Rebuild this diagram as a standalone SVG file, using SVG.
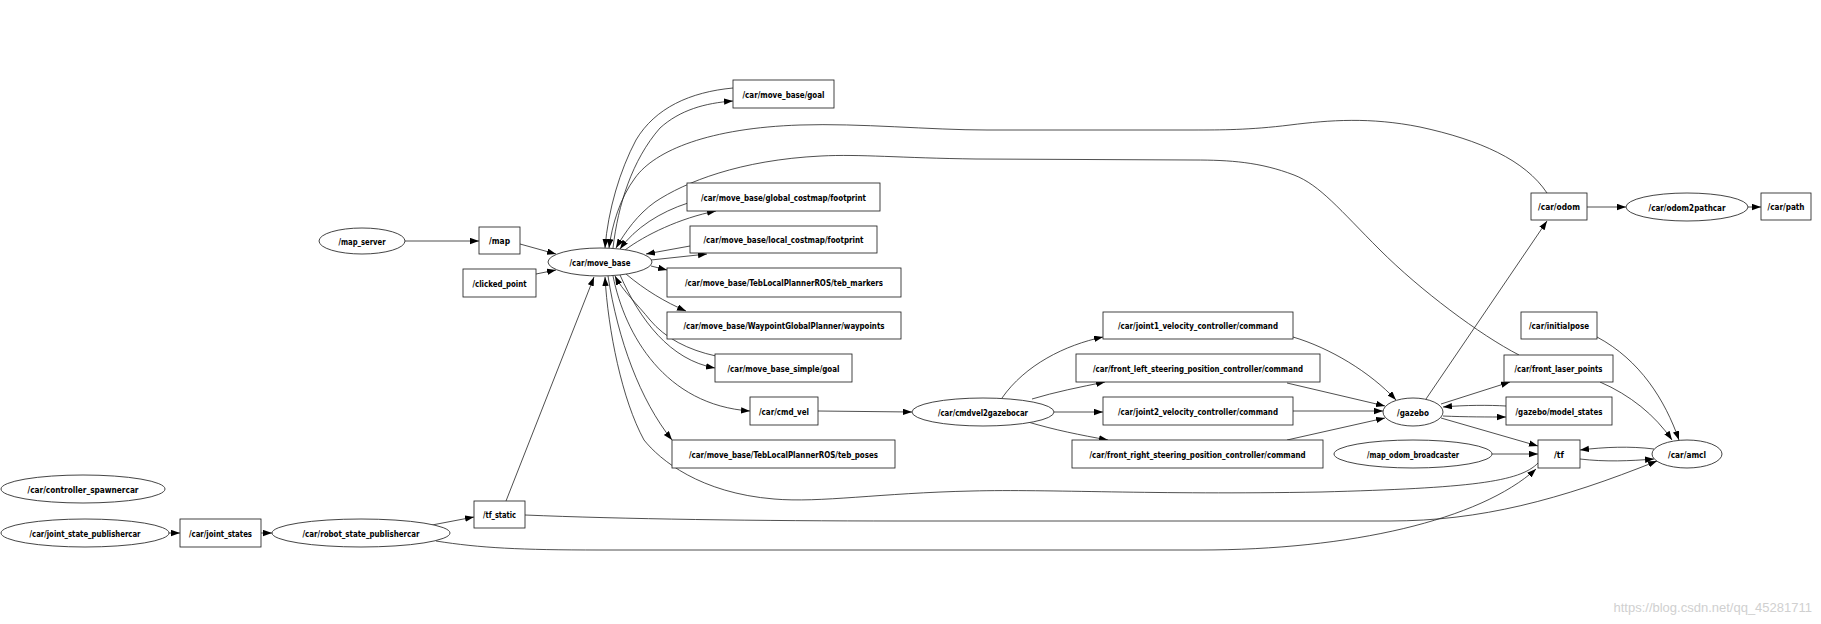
<svg xmlns="http://www.w3.org/2000/svg" width="1821" height="624" viewBox="0 0 1821 624">
<style>
.n{fill:#fff;stroke:#222;stroke-width:0.85}
.t{font-family:"DejaVu Sans Condensed","Roboto","Liberation Sans",sans-serif;font-weight:bold;font-size:9px;fill:#000;text-anchor:middle}
.e{fill:none;stroke:#222;stroke-width:0.8}
.wm{font-family:"Liberation Sans",Arial,sans-serif;font-size:13px;fill:#d0d0d0;text-anchor:end}
</style>
<defs>
<marker id="a" markerUnits="userSpaceOnUse" markerWidth="10" markerHeight="8" refX="9" refY="3.2" orient="auto">
<path d="M0,0 L9,3.2 L0,6.4 z" fill="#000"/>
</marker>
</defs>
<rect width="1821" height="624" fill="#fff"/>
<g id="edges" class="e" marker-end="url(#a)">
<path d="M405,241 L479,241"/>
<path d="M520,244 L556,254"/>
<path d="M536,274 L556,270"/>
<path d="M733,88 C690,92 655,108 636,140 C620,170 608,210 605,248"/>
<path d="M613,248 C618,205 632,160 660,128 C680,110 705,103 733,101"/>
<path d="M1547,193 C1525,160 1480,140 1420,127 C1370,117 1330,120 1290,125 C1250,130 1220,130 1194,130 L987,130 C930,130 860,123 800,125 C710,128 655,150 635,178 C620,198 612,225 609,248"/>
<path d="M1519,355 C1480,335 1420,290 1380,250 C1340,210 1320,185 1294,175 C1260,162 1230,160 1194,160 L976,159 C900,158 860,154 821,156 C740,160 685,182 655,202 C638,214 625,232 616,248"/>
<path d="M688,203 C660,212 635,228 620,249"/>
<path d="M625,250 C645,235 680,218 716,211"/>
<path d="M690,246 L646,254"/>
<path d="M651,260 L707,254"/>
<path d="M651,266 L667,270"/>
<path d="M626,274 C645,290 665,302 686,311"/>
<path d="M716,356 C688,350 665,338 650,320 C638,305 622,290 615,276"/>
<path d="M620,275 C640,320 670,360 715,368"/>
<path d="M613,276 C625,335 665,405 750,411"/>
<path d="M608,276 C618,340 640,400 672,440"/>
<path d="M1538,463 C1520,482 1470,488 1321,492 C1150,495 1050,489 972,491 C880,493 820,503 774,499 C700,493 660,460 644,440 C622,400 608,330 605,277"/>
<path d="M506,501 L594,277"/>
<path d="M818,411 L912,412"/>
<path d="M1002,398 C1025,365 1065,345 1103,337"/>
<path d="M1032,399 C1055,392 1080,387 1105,382"/>
<path d="M1054,412 L1103,412"/>
<path d="M1028,422 C1055,430 1080,435 1108,440"/>
<path d="M1293,337 C1330,348 1370,372 1396,400"/>
<path d="M1287,383 L1385,406"/>
<path d="M1293,411 L1383,411"/>
<path d="M1287,440 L1385,418"/>
<path d="M1426,399 L1547,221"/>
<path d="M1587,207 L1626,207"/>
<path d="M1748,207 L1761,207"/>
<path d="M1441,404 L1510,382"/>
<path d="M1506,406 C1490,405 1465,405 1443,407"/>
<path d="M1443,416 C1465,417 1490,417 1506,417"/>
<path d="M1441,418 L1538,446"/>
<path d="M1492,454 L1538,454"/>
<path d="M1654,449 C1630,446 1605,447 1580,450"/>
<path d="M1580,459 C1605,462 1630,461 1654,459"/>
<path d="M1597,337 C1640,360 1665,400 1679,440"/>
<path d="M1600,382 C1630,395 1655,415 1672,440"/>
<path d="M525,515 C620,519 760,521 900,521 L1390,521 C1480,521 1560,500 1657,461"/>
<path d="M432,525 L474,517"/>
<path d="M436,541 C480,548 520,550 600,550 L1200,550 C1350,550 1480,520 1536,469"/>
<path d="M169,533 L180,533"/>
<path d="M261,533 L272,533"/>
</g>
<g id="map_server"><ellipse class="n" cx="362" cy="241" rx="43" ry="13"/><text class="t" x="362" y="244.5" textLength="47" lengthAdjust="spacingAndGlyphs">/map_server</text></g>
<g id="map"><rect class="n" x="479" y="227" width="41" height="27"/><text class="t" x="499.5" y="244" textLength="21" lengthAdjust="spacingAndGlyphs">/map</text></g>
<g id="clicked_point"><rect class="n" x="463" y="269" width="73" height="28"/><text class="t" x="499.5" y="286.5" textLength="54" lengthAdjust="spacingAndGlyphs">/clicked_point</text></g>
<g id="move_base"><ellipse class="n" cx="600" cy="262" rx="52" ry="14"/><text class="t" x="600" y="265.5" textLength="61" lengthAdjust="spacingAndGlyphs">/car/move_base</text></g>
<g id="goal"><rect class="n" x="733" y="80" width="101" height="28"/><text class="t" x="783.5" y="97.5" textLength="82" lengthAdjust="spacingAndGlyphs">/car/move_base/goal</text></g>
<g id="global_footprint"><rect class="n" x="687" y="183" width="193" height="28"/><text class="t" x="783.5" y="200.5" textLength="165" lengthAdjust="spacingAndGlyphs">/car/move_base/global_costmap/footprint</text></g>
<g id="local_footprint"><rect class="n" x="690" y="226" width="187" height="27"/><text class="t" x="783.5" y="243" textLength="160" lengthAdjust="spacingAndGlyphs">/car/move_base/local_costmap/footprint</text></g>
<g id="teb_markers"><rect class="n" x="667" y="268" width="234" height="29"/><text class="t" x="784" y="286" textLength="198" lengthAdjust="spacingAndGlyphs">/car/move_base/TebLocalPlannerROS/teb_markers</text></g>
<g id="waypoints"><rect class="n" x="667" y="312" width="234" height="27"/><text class="t" x="784" y="329" textLength="201" lengthAdjust="spacingAndGlyphs">/car/move_base/WaypointGlobalPlanner/waypoints</text></g>
<g id="simple_goal"><rect class="n" x="715" y="354" width="137" height="28"/><text class="t" x="783.5" y="371.5" textLength="112" lengthAdjust="spacingAndGlyphs">/car/move_base_simple/goal</text></g>
<g id="cmd_vel"><rect class="n" x="750" y="397" width="68" height="28"/><text class="t" x="784" y="414.5" textLength="50" lengthAdjust="spacingAndGlyphs">/car/cmd_vel</text></g>
<g id="teb_poses"><rect class="n" x="672" y="440" width="223" height="28"/><text class="t" x="783.5" y="457.5" textLength="189" lengthAdjust="spacingAndGlyphs">/car/move_base/TebLocalPlannerROS/teb_poses</text></g>
<g id="controller_spawnercar"><ellipse class="n" cx="83" cy="489" rx="82" ry="14"/><text class="t" x="83" y="492.5" textLength="111" lengthAdjust="spacingAndGlyphs">/car/controller_spawnercar</text></g>
<g id="joint_state_publishercar"><ellipse class="n" cx="85" cy="533" rx="84" ry="14"/><text class="t" x="85" y="536.5" textLength="111" lengthAdjust="spacingAndGlyphs">/car/joint_state_publishercar</text></g>
<g id="joint_states"><rect class="n" x="180" y="519" width="81" height="28"/><text class="t" x="220.5" y="536.5" textLength="63" lengthAdjust="spacingAndGlyphs">/car/joint_states</text></g>
<g id="robot_state_publishercar"><ellipse class="n" cx="361" cy="533" rx="89" ry="14"/><text class="t" x="361" y="536.5" textLength="117" lengthAdjust="spacingAndGlyphs">/car/robot_state_publishercar</text></g>
<g id="tf_static"><rect class="n" x="474" y="501" width="51" height="27"/><text class="t" x="499.5" y="518" textLength="33" lengthAdjust="spacingAndGlyphs">/tf_static</text></g>
<g id="cmdvel2gazebocar"><ellipse class="n" cx="983" cy="412" rx="71" ry="14"/><text class="t" x="983" y="415.5" textLength="90" lengthAdjust="spacingAndGlyphs">/car/cmdvel2gazebocar</text></g>
<g id="joint1"><rect class="n" x="1103" y="312" width="190" height="27"/><text class="t" x="1198" y="329" textLength="160" lengthAdjust="spacingAndGlyphs">/car/joint1_velocity_controller/command</text></g>
<g id="front_left"><rect class="n" x="1076" y="354" width="244" height="28"/><text class="t" x="1198" y="371.5" textLength="210" lengthAdjust="spacingAndGlyphs">/car/front_left_steering_position_controller/command</text></g>
<g id="joint2"><rect class="n" x="1103" y="397" width="190" height="28"/><text class="t" x="1198" y="414.5" textLength="160" lengthAdjust="spacingAndGlyphs">/car/joint2_velocity_controller/command</text></g>
<g id="front_right"><rect class="n" x="1072" y="440" width="251" height="28"/><text class="t" x="1197.5" y="457.5" textLength="216" lengthAdjust="spacingAndGlyphs">/car/front_right_steering_position_controller/command</text></g>
<g id="gazebo"><ellipse class="n" cx="1413" cy="412" rx="30" ry="14"/><text class="t" x="1413" y="415.5" textLength="32" lengthAdjust="spacingAndGlyphs">/gazebo</text></g>
<g id="odom"><rect class="n" x="1531" y="193" width="56" height="27"/><text class="t" x="1559" y="210" textLength="42" lengthAdjust="spacingAndGlyphs">/car/odom</text></g>
<g id="odom2pathcar"><ellipse class="n" cx="1687" cy="207" rx="61" ry="14"/><text class="t" x="1687" y="210.5" textLength="77" lengthAdjust="spacingAndGlyphs">/car/odom2pathcar</text></g>
<g id="path"><rect class="n" x="1761" y="193" width="50" height="27"/><text class="t" x="1786" y="210" textLength="37" lengthAdjust="spacingAndGlyphs">/car/path</text></g>
<g id="initialpose"><rect class="n" x="1521" y="312" width="76" height="27"/><text class="t" x="1559" y="329" textLength="60" lengthAdjust="spacingAndGlyphs">/car/initialpose</text></g>
<g id="front_laser_points"><rect class="n" x="1504" y="355" width="109" height="27"/><text class="t" x="1558.5" y="372" textLength="88" lengthAdjust="spacingAndGlyphs">/car/front_laser_points</text></g>
<g id="model_states"><rect class="n" x="1506" y="397" width="106" height="28"/><text class="t" x="1559" y="414.5" textLength="87" lengthAdjust="spacingAndGlyphs">/gazebo/model_states</text></g>
<g id="tf"><rect class="n" x="1538" y="440" width="42" height="28"/><text class="t" x="1559" y="457.5" textLength="10" lengthAdjust="spacingAndGlyphs">/tf</text></g>
<g id="amcl"><ellipse class="n" cx="1687" cy="454" rx="35" ry="14"/><text class="t" x="1687" y="457.5" textLength="38" lengthAdjust="spacingAndGlyphs">/car/amcl</text></g>
<g id="map_odom_broadcaster"><ellipse class="n" cx="1413" cy="454" rx="79" ry="14"/><text class="t" x="1413" y="457.5" textLength="92" lengthAdjust="spacingAndGlyphs">/map_odom_broadcaster</text></g>
<text class="wm" x="1812" y="612">https://blog.csdn.net/qq_45281711</text>
</svg>
